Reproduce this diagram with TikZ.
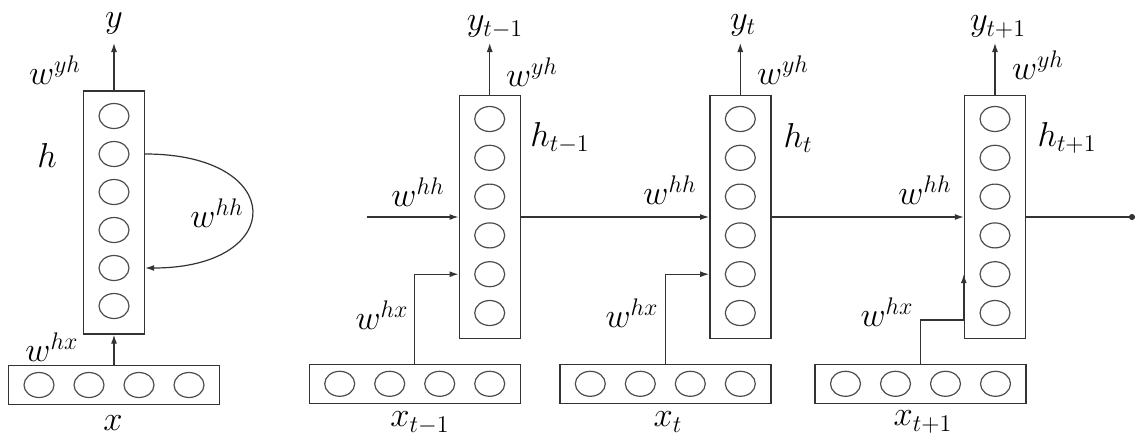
\documentclass[tikz,border=0pt]{standalone}
\usepackage{amsmath}
\usepackage{amssymb}
\usetikzlibrary{arrows.meta,shapes.geometric}

\begin{document}
\begin{tikzpicture}[x=0.5pt,y=0.5pt,yscale=-1,xscale=1,
  layer/.style={draw=black!80,line width=0.7pt,inner sep=0pt},
  hlayer/.style={layer,minimum width=30.5pt,minimum height=121.5pt},
  xlayer/.style={layer,minimum width=105.5pt,minimum height=19.5pt},
  unit/.style={ellipse,draw=black!70,line width=0.6pt,minimum width=15pt,minimum height=12.5pt,inner sep=0pt},
  wire/.style={draw=black!80,line width=0.6pt,-{Latex[length=4.5pt,width=3pt]}},
  lbl/.style={inner sep=0.75pt,font=\LARGE}]
\useasboundingbox (0,0) rectangle (1139,439);
\coordinate (ytop) at (0,43);
\coordinate (hin) at (366.7,217);
\coordinate (hout) at (1135,217);
\coordinate (bend) at (0,320);

%Folded network
\node[hlayer] (h) at (114,212.5) {};
\foreach \i in {1,...,6} \node[unit] (h-\i) at (114,{116+(\i-1)*38}) {};
\node[xlayer] (x) at (114,385) {};
\foreach \i/\dx in {1/-75,2/-25,3/25,4/75} \node[unit] (x-\i) at ({114+\dx},385) {};

%Unrolled network
\foreach \n/\cx/\bx in {1/489.7/414.7,2/740.3/665.3,3/995/920.5} {
  \node[hlayer] (h\n) at (\cx,217) {};
  \foreach \i in {1,...,6} \node[unit] (h\n-\i) at (\cx,{119+(\i-1)*38.8}) {};
  \node[xlayer] (x\n) at (\bx,383.8) {};
  \foreach \i/\dx in {1/-75,2/-25,3/25,4/75} \node[unit] (x\n-\i) at ({\bx+\dx},383.8) {};
}

%Straight Lines
\draw[wire] (x) -- (h);
\draw[wire] (h) -- (h.north |- ytop);
\draw[wire] (h.east |- h-2) to[out=0,in=0,looseness=3.2] (h.east |- h-5);

\draw[wire] (hin) -- (h1);
\draw[wire] (h1) -- (h2);
\draw[wire] (h2) -- (h3);
\draw[wire,-{Circle[length=3pt]}] (h3) -- (hout);
\foreach \n in {1,2,3} \draw[wire] (h\n) -- (h\n.north |- ytop);
\draw[wire] (x1) |- (h1.west |- h1-5);
\draw[wire] (x2) |- (h2.west |- h2-5);
\draw[wire] (x3) |- (h3.west |- bend) -- (h3.west |- h3-5);

% Text Node
\node[lbl] (ylab) at (114,23) {$y$};
\node[lbl] (wyh) at (55,70) {$w^{yh}$};
\node[lbl] (hlab) at (47,155) {$h$};
\node[lbl] (whh) at (217,213) {$w^{hh}$};
\node[lbl] (whx) at (52,347) {$w^{hx}$};
\node[lbl] (xlab) at (113,423) {$x$};
% Text Node
\node[lbl] (ylab1) at (495,27) {$y_{t-1}$};
\node[lbl] (wyh1) at (532,72) {$w^{yh}$};
\node[lbl] (hlab1) at (560,138) {$h_{t-1}$};
\node[lbl] (whh1) at (418,192) {$w^{hh}$};
\node[lbl] (whx1) at (382,315) {$w^{hx}$};
\node[lbl] (xlab1) at (420,423) {$x_{t-1}$};
% Text Node
\node[lbl] (ylab2) at (743,25) {$y_t$};
\node[lbl] (wyh2) at (783,70) {$w^{yh}$};
\node[lbl] (hlab2) at (798,138) {$h_t$};
\node[lbl] (whh2) at (670,190) {$w^{hh}$};
\node[lbl] (whx2) at (632,313) {$w^{hx}$};
\node[lbl] (xlab2) at (668,422) {$x_t$};
% Text Node
\node[lbl] (ylab3) at (998,27) {$y_{t+1}$};
\node[lbl] (wyh3) at (1038,65) {$w^{yh}$};
\node[lbl] (hlab3) at (1067,138) {$h_{t+1}$};
\node[lbl] (whh3) at (925,190) {$w^{hh}$};
\node[lbl] (whx3) at (887,312) {$w^{hx}$};
\node[lbl] (xlab3) at (923,422) {$x_{t+1}$};

\end{tikzpicture}
\end{document}
